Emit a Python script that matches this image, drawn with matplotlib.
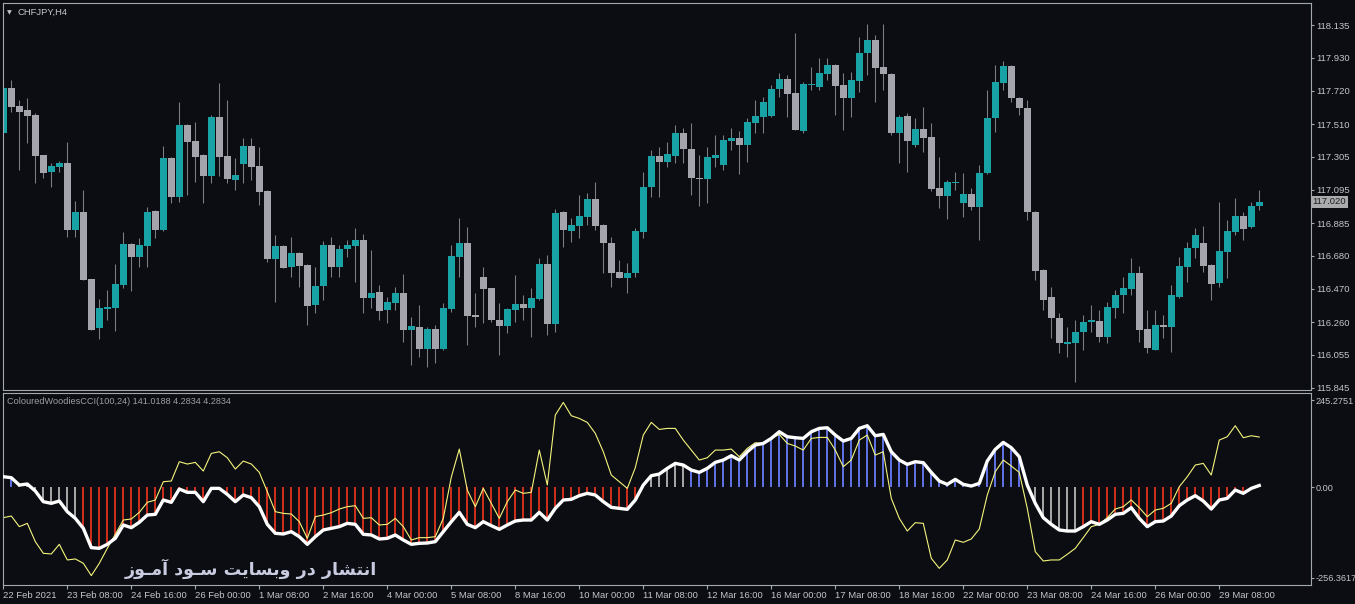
import matplotlib
matplotlib.use("Agg")
import matplotlib.pyplot as plt
import numpy as np

# CHFJPY H4 candles, 22 Feb 2021 -> 30 Mar 2021
opens = [
    117.454, 117.738, 117.624, 117.599, 117.567, 117.315, 117.208, 117.239, 117.265, 116.842,
    116.955, 116.532, 116.223, 116.343, 116.349, 116.495, 116.753, 116.671, 116.741, 116.962,
    116.842, 117.296, 117.050, 117.504, 117.403, 117.315, 117.182, 117.555, 117.309, 117.157,
    117.258, 117.372, 117.246, 117.088, 116.659, 116.741, 116.608, 116.697, 116.621, 116.368,
    116.488, 116.747, 116.608, 116.722, 116.741, 116.779, 116.413, 116.450, 116.337, 116.381,
    116.444, 116.210, 116.230, 116.091, 116.217, 116.091, 116.343, 116.671, 116.760, 116.305,
    116.545, 116.476, 116.274, 116.236, 116.337, 116.375, 116.349, 116.406, 116.627, 116.249,
    116.955, 116.835, 116.867, 116.924, 117.037, 116.873, 116.760, 116.577, 116.539, 116.570,
    116.829, 117.113, 117.309, 117.271, 117.309, 117.454, 117.353, 117.170, 117.164, 117.296,
    117.252, 117.403, 117.422, 117.378, 117.517, 117.555, 117.561, 117.731, 117.795, 117.706,
    117.466, 117.757, 117.744, 117.826, 117.883, 117.757, 117.675, 117.782, 117.959, 118.041,
    117.870, 117.826, 117.454, 117.561, 117.378, 117.479, 117.429, 117.107, 117.056, 117.138,
    117.012, 117.069, 116.987, 117.201, 117.548, 117.769, 117.877, 117.675, 117.612, 116.955,
    116.589, 116.419, 116.287, 116.122, 116.129, 116.198, 116.261, 116.268, 116.166, 116.349,
    116.431, 116.469, 116.570, 116.217, 116.085, 116.242, 116.230, 116.419, 116.608, 116.728,
    116.760, 116.621, 116.507, 116.703, 116.829, 116.930, 116.861, 116.993,
]
highs = [
    117.750, 117.788, 117.662, 117.675, 117.580, 117.315, 117.265, 117.277, 117.397, 117.025,
    117.094, 116.532, 116.406, 116.463, 116.627, 116.829, 116.760, 116.791, 116.987, 116.968,
    117.372, 117.302, 117.649, 117.510, 117.523, 117.321, 117.567, 117.769, 117.662, 117.296,
    117.422, 117.422, 117.365, 117.094, 116.810, 116.747, 116.798, 116.703, 116.627, 116.608,
    116.772, 116.798, 116.747, 116.779, 116.854, 116.816, 116.716, 116.495, 116.419, 116.482,
    116.564, 116.293, 116.368, 116.230, 116.242, 116.381, 116.747, 116.917, 116.861, 116.444,
    116.608, 116.476, 116.381, 116.349, 116.558, 116.431, 116.476, 116.665, 116.684, 116.974,
    116.962, 116.917, 117.063, 117.075, 117.145, 116.880, 116.798, 116.653, 116.634, 116.854,
    117.208, 117.347, 117.365, 117.397, 117.504, 117.485, 117.517, 117.315, 117.365, 117.441,
    117.441, 117.485, 117.466, 117.548, 117.662, 117.681, 117.757, 117.832, 117.820, 118.085,
    117.776, 117.870, 117.927, 117.927, 117.890, 117.832, 117.839, 118.060, 118.142, 118.072,
    118.142, 117.832, 117.567, 117.580, 117.548, 117.618, 117.517, 117.302, 117.157, 117.208,
    117.201, 117.107, 117.252, 117.725, 117.883, 117.908, 117.883, 117.681, 117.662, 116.962,
    116.596, 116.482, 116.318, 116.230, 116.274, 116.305, 116.368, 116.337, 116.387, 116.463,
    116.545, 116.665, 116.615, 116.337, 116.337, 116.305, 116.495, 116.671, 116.766, 116.854,
    116.867, 116.627, 117.018, 116.905, 117.044, 116.955, 117.018, 117.094,
]
lows = [
    117.441, 117.586, 117.220, 117.391, 117.138, 117.170, 117.113, 117.208, 116.798, 116.798,
    116.526, 116.210, 116.154, 116.274, 116.204, 116.476, 116.457, 116.608, 116.608, 116.791,
    116.835, 117.012, 117.018, 117.063, 117.145, 117.012, 117.138, 117.182, 117.138, 117.094,
    117.138, 117.157, 116.999, 116.640, 116.387, 116.602, 116.545, 116.482, 116.242, 116.318,
    116.400, 116.545, 116.545, 116.671, 116.514, 116.318, 116.349, 116.274, 116.255, 116.337,
    116.135, 115.990, 116.040, 115.977, 116.002, 116.085, 116.324, 116.545, 116.116, 116.230,
    116.255, 116.261, 116.053, 116.192, 116.261, 116.274, 116.166, 116.400, 116.179, 116.198,
    116.735, 116.766, 116.791, 116.873, 116.842, 116.570, 116.482, 116.539, 116.444, 116.545,
    116.791, 117.050, 117.050, 117.239, 117.265, 117.265, 117.063, 116.993, 117.012, 117.239,
    117.220, 117.347, 117.195, 117.271, 117.454, 117.454, 117.555, 117.681, 117.555, 117.473,
    117.454, 117.725, 117.725, 117.788, 117.567, 117.473, 117.555, 117.712, 117.820, 117.649,
    117.725, 117.441, 117.265, 117.208, 117.365, 117.334, 117.088, 116.981, 116.911, 117.094,
    116.924, 116.968, 116.779, 117.195, 117.460, 117.725, 117.649, 117.567, 116.905, 116.526,
    116.337, 116.160, 116.066, 116.040, 115.883, 116.085, 116.198, 116.135, 116.129, 116.287,
    116.318, 116.431, 116.135, 116.066, 116.085, 116.160, 116.072, 116.413, 116.514, 116.665,
    116.577, 116.400, 116.482, 116.539, 116.810, 116.779, 116.854, 116.968,
]
closes = [
    117.738, 117.618, 117.586, 117.561, 117.309, 117.201, 117.246, 117.265, 116.842, 116.955,
    116.526, 116.210, 116.349, 116.356, 116.501, 116.753, 116.671, 116.747, 116.955, 116.842,
    117.296, 117.050, 117.504, 117.397, 117.302, 117.182, 117.555, 117.302, 117.164, 117.189,
    117.372, 117.239, 117.081, 116.659, 116.741, 116.602, 116.697, 116.615, 116.362, 116.488,
    116.747, 116.608, 116.722, 116.747, 116.779, 116.413, 116.444, 116.331, 116.387, 116.444,
    116.210, 116.236, 116.091, 116.217, 116.091, 116.349, 116.678, 116.760, 116.299, 116.293,
    116.469, 116.274, 116.236, 116.343, 116.375, 116.349, 116.413, 116.627, 116.249, 116.949,
    116.842, 116.873, 116.930, 117.037, 116.867, 116.760, 116.570, 116.539, 116.570, 116.835,
    117.113, 117.309, 117.271, 117.321, 117.454, 117.353, 117.170, 117.164, 117.302, 117.315,
    117.410, 117.422, 117.378, 117.523, 117.561, 117.649, 117.731, 117.795, 117.700, 117.473,
    117.763, 117.763, 117.832, 117.883, 117.750, 117.675, 117.788, 117.959, 118.041, 117.864,
    117.826, 117.454, 117.555, 117.403, 117.479, 117.422, 117.100, 117.056, 117.145, 117.145,
    117.069, 116.987, 117.201, 117.548, 117.776, 117.877, 117.675, 117.612, 116.955, 116.583,
    116.400, 116.287, 116.129, 116.135, 116.198, 116.261, 116.274, 116.166, 116.356, 116.431,
    116.476, 116.570, 116.210, 116.097, 116.242, 116.230, 116.431, 116.615, 116.728, 116.810,
    116.615, 116.501, 116.709, 116.835, 116.930, 116.848, 116.993, 117.020,
]

# Woodies CCI (thick white) and turbo CCI (thin yellow)
cci = [
    29.1, 26.3, 5.6, 8.5, -11.3, -41.3, -46.0, -39.4, -69.5, -88.3,
    -116.4, -170.9, -172.8, -161.5, -144.6, -107.0, -114.6, -99.5, -78.9, -77.0,
    -36.6, -43.2, -5.6, -15.0, -15.0, -41.3, -3.8, -3.8, -20.7, -41.3,
    -22.5, -30.0, -55.4, -105.2, -130.5, -132.4, -125.8, -139.9, -161.5, -139.9,
    -121.1, -116.4, -111.7, -102.4, -105.2, -133.3, -135.2, -146.5, -144.6, -135.2,
    -149.3, -161.5, -158.7, -157.8, -154.0, -125.8, -97.7, -71.4, -105.2, -114.6,
    -97.7, -108.9, -119.3, -107.0, -95.8, -93.0, -93.0, -71.4, -93.0, -60.1,
    -36.6, -34.7, -24.4, -17.8, -22.5, -41.3, -57.3, -60.1, -62.9, -36.6,
    5.6, 31.9, 36.6, 52.6, 66.7, 62.0, 47.9, 41.3, 52.6, 69.5,
    76.1, 88.3, 76.1, 99.5, 118.3, 123.0, 137.1, 155.9, 141.8, 139.0,
    137.1, 155.9, 165.3, 167.1, 146.5, 129.6, 137.1, 165.3, 172.8, 144.6,
    148.4, 99.5, 76.1, 63.9, 71.4, 68.6, 41.3, 16.9, 7.5, 21.6,
    7.5, 2.8, 10.3, 73.2, 106.1, 125.8, 110.8, 85.4, 5.6, -46.0,
    -86.4, -105.2, -121.1, -124.0, -124.0, -111.7, -97.7, -105.2, -93.0, -77.0,
    -74.2, -58.2, -88.3, -111.7, -97.7, -95.8, -81.7, -52.6, -36.6, -24.4,
    -39.4, -62.0, -36.6, -31.9, -8.5, -17.8, -3.8, 4.3,
]
tcci = [
    -86.4, -81.7, -111.7, -102.4, -154.0, -186.9, -188.7, -161.5, -205.6, -202.8,
    -215.0, -249.8, -215.0, -172.8, -133.3, -93.0, -90.1, -71.4, -43.2, -36.6,
    15.0, 16.9, 71.4, 64.8, 69.5, 45.1, 94.8, 99.5, 82.6, 50.7,
    73.2, 64.8, 41.3, -13.1, -69.5, -74.2, -76.1, -97.7, -144.6, -83.6,
    -78.9, -72.3, -62.0, -55.4, -52.6, -88.3, -86.4, -107.0, -105.2, -88.3,
    -111.7, -149.3, -142.7, -142.7, -139.9, -88.3, 28.0, 107.0, -8.5, -55.4,
    -3.8, -46.0, -88.3, -41.3, -8.5, -17.8, -15.0, 104.2, 5.6, 202.8,
    238.5, 201.0, 193.4, 182.2, 151.2, 99.5, 33.8, 15.0, -3.8, 54.5,
    146.5, 182.2, 162.4, 165.3, 165.3, 132.4, 104.2, 76.1, 82.6, 104.2,
    104.2, 107.0, 85.4, 108.9, 124.9, 123.0, 137.1, 148.4, 123.0, 115.5,
    104.2, 137.1, 139.9, 139.9, 104.2, 57.3, 76.1, 132.4, 146.5, 90.1,
    99.5, -31.9, -88.3, -124.0, -100.5, -102.4, -201.0, -229.2, -205.6, -149.3,
    -155.9, -146.5, -118.3, -22.5, 43.2, 76.1, 59.2, 41.3, -60.1, -182.2,
    -208.5, -205.6, -205.6, -189.7, -172.8, -142.7, -111.7, -105.2, -86.4, -62.0,
    -55.4, -36.6, -58.2, -83.6, -64.8, -60.1, -46.0, 0.9, 29.1, 62.0,
    66.7, 33.8, 132.4, 141.8, 172.8, 139.0, 144.6, 141.0,
]
# histogram trend state, as runs of bars
hist_runs = [("up", 2), ("flat", 8), ("down", 70), ("flat", 6),
             ("up", 43), ("flat", 6), ("down", 23)]

time_labels = ["22 Feb 2021", "23 Feb 08:00", "24 Feb 16:00", "26 Feb 00:00",
               "1 Mar 08:00", "2 Mar 16:00", "4 Mar 00:00", "5 Mar 08:00",
               "8 Mar 16:00", "10 Mar 00:00", "11 Mar 08:00", "12 Mar 16:00",
               "16 Mar 00:00", "17 Mar 08:00", "18 Mar 16:00", "22 Mar 00:00",
               "23 Mar 08:00", "24 Mar 16:00", "26 Mar 00:00", "29 Mar 08:00"]
price_ticks = [118.135, 117.930, 117.720, 117.510, 117.305, 117.095,
               116.885, 116.680, 116.470, 116.260, 116.055, 115.845]
cci_ticks = [245.2751, 0.0, -256.3617]
cci_tick_labels = ["245.2751", "0.00", "-256.3617"]
last_price = 117.020
symbol = "CHFJPY,H4"
indicator_label = "ColouredWoodiesCCI(100,24) 141.0188 4.2834 4.2834"
watermark = "انتشار در وبسایت سـود آمـوز"

BG = "#0b0d12"
SPINE = "#a3a9b0"
TEXT = "#c3c5c9"
BULL = "#17a2a6"
BEAR = "#a4a4ac"
WICK = "#7d7f82"
HIST = {"up": "#5e70e0", "flat": "#a4a4a4", "down": "#cc2e1c"}

plt.rcParams['font.family'] = ['Liberation Sans', 'DejaVu Sans']

# matplotlib does no arabic shaping, so pick the presentation forms by hand
FA_FORMS = {
    "ا": "\ufe8d\ufe8e", "آ": "\ufe81\ufe82", "د": "\ufea9\ufeaa",
    "ر": "\ufead\ufeae", "ز": "\ufeaf\ufeb0", "و": "\ufeed\ufeee",
    "ب": "\ufe8f\ufe90\ufe91\ufe92", "ت": "\ufe95\ufe96\ufe97\ufe98",
    "س": "\ufeb1\ufeb2\ufeb3\ufeb4", "ش": "\ufeb5\ufeb6\ufeb7\ufeb8",
    "م": "\ufee1\ufee2\ufee3\ufee4", "ن": "\ufee5\ufee6\ufee7\ufee8",
    "ی": "\ufbfc\ufbfd\ufbfe\ufbff", "ـ": "ـ" * 4,
}


def shape_fa(s):
    out = []
    for k, ch in enumerate(s):
        f = FA_FORMS.get(ch)
        if f is None:
            out.append(ch)
            continue
        prev = s[k - 1] if k > 0 else ""
        nxt = s[k + 1] if k + 1 < len(s) else ""
        join_prev = prev in FA_FORMS and len(FA_FORMS[prev]) == 4
        join_next = len(f) == 4 and nxt in FA_FORMS
        if join_prev and join_next:
            out.append(f[3])
        elif join_prev:
            out.append(f[1])
        elif join_next:
            out.append(f[2])
        else:
            out.append(f[0])
    return "".join(reversed(out))


W, H = 1355, 604
fig = plt.figure(figsize=(W / 100, H / 100), dpi=100, facecolor=BG)


def box(x0, y0, x1, y1):
    return [x0 / W, 1 - y1 / H, (x1 - x0) / W, (y1 - y0) / H]


ax = fig.add_axes(box(3, 3, 1310.7, 390), facecolor=BG)
ax2 = fig.add_axes(box(3, 392.5, 1310.7, 585), facecolor=BG)

o = np.array(opens); h = np.array(highs); l = np.array(lows); c = np.array(closes)
x = np.arange(len(o))
bull = c >= o
body_lo = np.minimum(o, c)
body_h = np.maximum(np.abs(c - o), 0.005)

ax.vlines(x, l, h, color=WICK, lw=0.75, zorder=1)
ax.bar(x, body_h, bottom=body_lo, width=0.82,
       color=np.where(bull, BULL, BEAR), linewidth=0, zorder=2)

ax.set_xlim(-0.04, 163.43)
ax.set_ylim(115.832, 118.274)
ax.yaxis.tick_right()
ax.set_yticks(price_ticks, labels=[f"{v:.3f}" for v in price_ticks])
ax.tick_params(axis='y', colors=TEXT, labelsize=6.8, length=2.5, width=0.8, pad=1.2)
ax.tick_params(axis='y', color=SPINE)
ax.tick_params(axis='x', bottom=False, labelbottom=False)

ax.annotate(f"{last_price:.3f}", xy=(1, last_price), xycoords=('axes fraction', 'data'),
            xytext=(1.4, 0), textcoords='offset points', ha='left', va='center',
            fontsize=6.8, color="#1c1c1c",
            bbox=dict(boxstyle='square,pad=0.18', fc="#a9abad", ec='none'))

# indicator window: thin histogram sticks from zero to the CCI value
states = [s for s, n in hist_runs for _ in range(n)]
ax2.bar(x, cci, width=0.22, color=[HIST[s] for s in states], linewidth=0, zorder=1)
ax2.plot(x, tcci, color="#f4f47c", lw=0.8, zorder=2)
ax2.plot(x, cci, color="white", lw=2.4, zorder=3, solid_joinstyle='round')

ax2.set_xlim(-0.04, 163.43)
ax2.set_ylim(-276.2, 266.5)
ax2.yaxis.tick_right()
ax2.set_yticks(cci_ticks, labels=cci_tick_labels)
ax2.tick_params(axis='y', colors=TEXT, labelsize=6.6, length=2.5, width=0.8, pad=1.0)
ax2.tick_params(axis='y', color=SPINE)
ax2.set_xticks(x[::8][:len(time_labels)], labels=time_labels)
ax2.tick_params(axis='x', colors=TEXT, labelsize=6.8, length=3, width=0.8, pad=1)
ax2.tick_params(axis='x', color=SPINE)
for lab in ax2.get_xticklabels():
    lab.set_horizontalalignment('left')

for a in (ax, ax2):
    for sp in a.spines.values():
        sp.set_color(SPINE)
        sp.set_linewidth(0.8)

fig.text(9.5 / W, 1 - 12.5 / H, "▼", fontsize=4.5, color=TEXT,
         ha='center', va='center', family=['DejaVu Sans'])
fig.text(18 / W, 1 - 12 / H, symbol, fontsize=6.8, color=TEXT, ha='left', va='center')
fig.text(7 / W, 1 - 401 / H, indicator_label, fontsize=6.6, color="#9c9ea2",
         ha='left', va='center')
fig.text(251 / W, 1 - 569 / H, shape_fa(watermark), fontsize=12.6, fontweight='bold',
         color="#c9cce0", ha='center', va='center', family=['DejaVu Sans'])

fig.savefig("out.png", dpi=100, facecolor=BG)
